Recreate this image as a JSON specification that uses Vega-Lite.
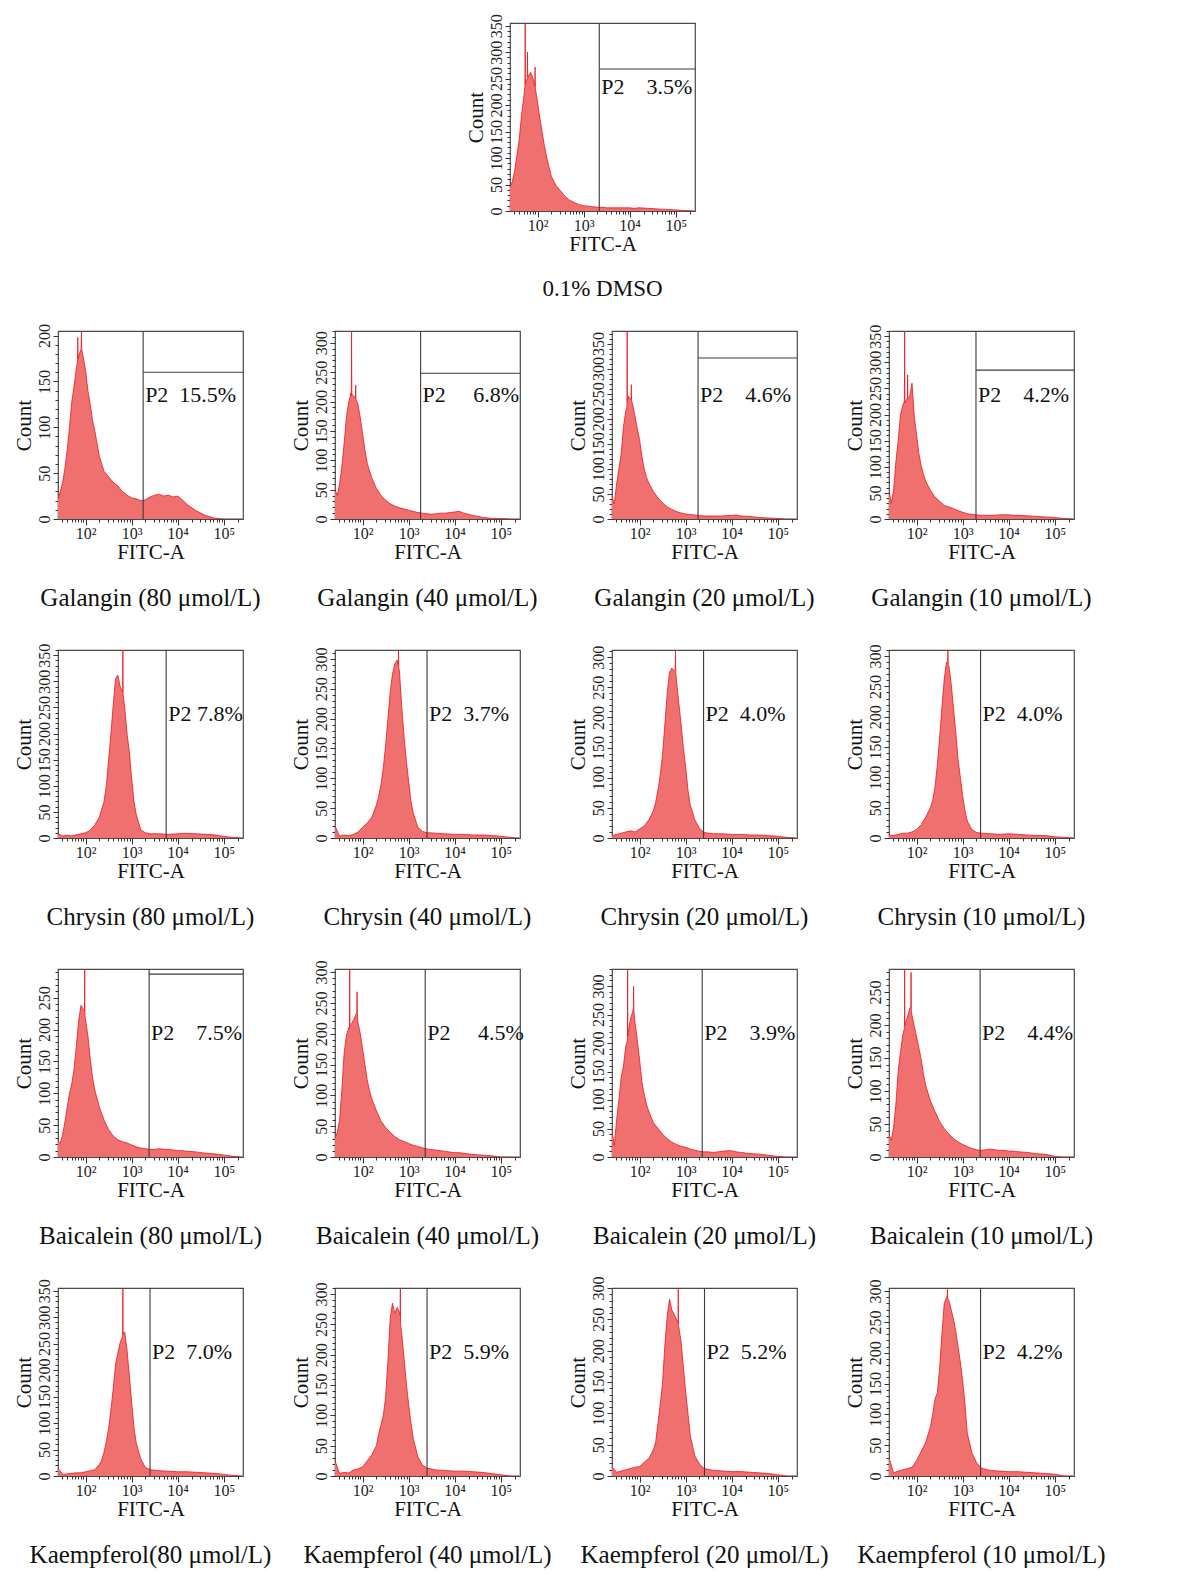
{
"$schema": "https://vega.github.io/schema/vega-lite/v6.json",
"padding": {"left": 12, "top": 13, "right": 0, "bottom": 0},
"background": "white",
"config": {
  "font": "Liberation Serif",
  "view": {"stroke": "#4a4a4a", "strokeWidth": 1.2},
  "axis": {"grid": false, "domain": false, "labelFont": "Liberation Serif", "titleFont": "Liberation Serif", "labelColor": "#222", "titleColor": "#111", "tickColor": "#333", "titleFontWeight": "normal", "labelFlush": false},
  "header": {"labelOrient": "bottom", "labelFont": "Liberation Serif", "labelFontSize": 25, "labelColor": "#111", "labelPadding": 24},
  "title": {"font": "Liberation Serif", "fontWeight": "normal"}
},
"datasets": {
"meta": [
{"s":"D","cap":"0.1% DMSO","ord":0,"gate":3.34,"hline":268,"ymax":355,"label":"P2\u00a0\u00a0\u00a0\u00a03.5%"},
{"s":"G80","cap":"Galangin (80 μmol/L)","ord":1,"gate":3.25,"hline":160,"ymax":205,"label":"P2\u00a0\u00a015.5%"},
{"s":"G40","cap":"Galangin (40 μmol/L)","ord":2,"gate":3.26,"hline":248,"ymax":320,"label":"P2\u00a0\u00a0\u00a0\u00a0\u00a06.8%"},
{"s":"G20","cap":"Galangin (20 μmol/L)","ord":3,"gate":3.27,"hline":321,"ymax":375,"label":"P2\u00a0\u00a0\u00a0\u00a04.6%"},
{"s":"G10","cap":"Galangin (10 μmol/L)","ord":4,"gate":3.29,"hline":285,"ymax":360,"label":"P2\u00a0\u00a0\u00a0\u00a04.2%"},
{"s":"C80","cap":"Chrysin (80 μmol/L)","ord":5,"gate":3.75,"hline":null,"ymax":360,"label":"P2 7.8%"},
{"s":"C40","cap":"Chrysin (40 μmol/L)","ord":6,"gate":3.40,"hline":null,"ymax":315,"label":"P2\u00a0\u00a03.7%"},
{"s":"C20","cap":"Chrysin (20 μmol/L)","ord":7,"gate":3.39,"hline":null,"ymax":312,"label":"P2\u00a0\u00a04.0%"},
{"s":"C10","cap":"Chrysin (10 μmol/L)","ord":8,"gate":3.39,"hline":null,"ymax":310,"label":"P2\u00a0\u00a04.0%"},
{"s":"B80","cap":"Baicalein (80 μmol/L)","ord":9,"gate":3.38,"hline":287,"ymax":295,"label":"P2\u00a0\u00a0\u00a0\u00a07.5%"},
{"s":"B40","cap":"Baicalein (40 μmol/L)","ord":10,"gate":3.36,"hline":null,"ymax":305,"label":"P2\u00a0\u00a0\u00a0\u00a0\u00a04.5%"},
{"s":"B20","cap":"Baicalein (20 μmol/L)","ord":11,"gate":3.36,"hline":null,"ymax":330,"label":"P2\u00a0\u00a0\u00a0\u00a03.9%"},
{"s":"B10","cap":"Baicalein (10 μmol/L)","ord":12,"gate":3.38,"hline":null,"ymax":285,"label":"P2\u00a0\u00a0\u00a0\u00a04.4%"},
{"s":"K80","cap":"Kaempferol(80 μmol/L)","ord":13,"gate":3.40,"hline":null,"ymax":355,"label":"P2\u00a0\u00a07.0%"},
{"s":"K40","cap":"Kaempferol (40 μmol/L)","ord":14,"gate":3.40,"hline":null,"ymax":310,"label":"P2\u00a0\u00a05.9%"},
{"s":"K20","cap":"Kaempferol (20 μmol/L)","ord":15,"gate":3.41,"hline":null,"ymax":300,"label":"P2\u00a0\u00a05.2%"},
{"s":"K10","cap":"Kaempferol (10 μmol/L)","ord":16,"gate":3.39,"hline":null,"ymax":305,"label":"P2\u00a0\u00a04.2%"}
],
"hist": [
{"s":"D","x":1.4,"c":45},{"s":"D","x":1.45,"c":55},{"s":"D","x":1.5,"c":75},{"s":"D","x":1.55,"c":105},{"s":"D","x":1.6,"c":135},{"s":"D","x":1.65,"c":180},{"s":"D","x":1.7,"c":215},{"s":"D","x":1.725,"c":235},{"s":"D","x":1.73,"c":355},{"s":"D","x":1.735,"c":240},{"s":"D","x":1.75,"c":245},{"s":"D","x":1.775,"c":250},{"s":"D","x":1.78,"c":300},{"s":"D","x":1.785,"c":253},{"s":"D","x":1.8,"c":255},{"s":"D","x":1.85,"c":262},{"s":"D","x":1.9,"c":250},{"s":"D","x":1.94,"c":236},{"s":"D","x":1.945,"c":272},{"s":"D","x":1.95,"c":232},{"s":"D","x":2,"c":205},{"s":"D","x":2.05,"c":175},{"s":"D","x":2.1,"c":148},{"s":"D","x":2.15,"c":122},{"s":"D","x":2.2,"c":100},{"s":"D","x":2.3,"c":65},{"s":"D","x":2.4,"c":48},{"s":"D","x":2.5,"c":38},{"s":"D","x":2.6,"c":27},{"s":"D","x":2.7,"c":20},{"s":"D","x":2.8,"c":16},{"s":"D","x":2.9,"c":12},{"s":"D","x":3,"c":10},{"s":"D","x":3.1,"c":9},{"s":"D","x":3.2,"c":8},{"s":"D","x":3.3,"c":7},{"s":"D","x":3.4,"c":7},{"s":"D","x":3.5,"c":6},{"s":"D","x":3.6,"c":6},{"s":"D","x":3.7,"c":6},{"s":"D","x":3.8,"c":6},{"s":"D","x":3.9,"c":6},{"s":"D","x":4,"c":6},{"s":"D","x":4.1,"c":5},{"s":"D","x":4.2,"c":6},{"s":"D","x":4.4,"c":5},{"s":"D","x":4.6,"c":4},{"s":"D","x":4.8,"c":3},{"s":"D","x":5,"c":2},{"s":"D","x":5.2,"c":1},{"s":"D","x":5.4,"c":0},
{"s":"G80","x":1.4,"c":22},{"s":"G80","x":1.45,"c":30},{"s":"G80","x":1.5,"c":40},{"s":"G80","x":1.55,"c":55},{"s":"G80","x":1.6,"c":75},{"s":"G80","x":1.65,"c":100},{"s":"G80","x":1.7,"c":128},{"s":"G80","x":1.75,"c":145},{"s":"G80","x":1.8,"c":165},{"s":"G80","x":1.825,"c":172},{"s":"G80","x":1.83,"c":198},{"s":"G80","x":1.835,"c":175},{"s":"G80","x":1.85,"c":178},{"s":"G80","x":1.9,"c":185},{"s":"G80","x":1.905,"c":190},{"s":"G80","x":1.91,"c":205},{"s":"G80","x":1.915,"c":185},{"s":"G80","x":1.95,"c":176},{"s":"G80","x":2,"c":162},{"s":"G80","x":2.05,"c":140},{"s":"G80","x":2.1,"c":125},{"s":"G80","x":2.15,"c":108},{"s":"G80","x":2.2,"c":96},{"s":"G80","x":2.3,"c":68},{"s":"G80","x":2.4,"c":52},{"s":"G80","x":2.5,"c":46},{"s":"G80","x":2.6,"c":40},{"s":"G80","x":2.7,"c":36},{"s":"G80","x":2.8,"c":30},{"s":"G80","x":2.9,"c":26},{"s":"G80","x":3,"c":23},{"s":"G80","x":3.1,"c":22},{"s":"G80","x":3.2,"c":20},{"s":"G80","x":3.3,"c":21},{"s":"G80","x":3.4,"c":24},{"s":"G80","x":3.5,"c":26},{"s":"G80","x":3.6,"c":27},{"s":"G80","x":3.7,"c":25},{"s":"G80","x":3.8,"c":26},{"s":"G80","x":3.9,"c":24},{"s":"G80","x":4,"c":25},{"s":"G80","x":4.1,"c":21},{"s":"G80","x":4.2,"c":16},{"s":"G80","x":4.4,"c":9},{"s":"G80","x":4.6,"c":4},{"s":"G80","x":4.8,"c":1},{"s":"G80","x":5,"c":0},{"s":"G80","x":5.2,"c":0},{"s":"G80","x":5.4,"c":0},
{"s":"G40","x":1.4,"c":50},{"s":"G40","x":1.45,"c":40},{"s":"G40","x":1.5,"c":60},{"s":"G40","x":1.55,"c":90},{"s":"G40","x":1.6,"c":130},{"s":"G40","x":1.65,"c":175},{"s":"G40","x":1.7,"c":200},{"s":"G40","x":1.75,"c":215},{"s":"G40","x":1.755,"c":210},{"s":"G40","x":1.76,"c":320},{"s":"G40","x":1.765,"c":212},{"s":"G40","x":1.8,"c":210},{"s":"G40","x":1.845,"c":206},{"s":"G40","x":1.85,"c":228},{"s":"G40","x":1.855,"c":204},{"s":"G40","x":1.9,"c":195},{"s":"G40","x":1.95,"c":172},{"s":"G40","x":2,"c":145},{"s":"G40","x":2.05,"c":118},{"s":"G40","x":2.1,"c":95},{"s":"G40","x":2.15,"c":82},{"s":"G40","x":2.2,"c":70},{"s":"G40","x":2.3,"c":52},{"s":"G40","x":2.4,"c":40},{"s":"G40","x":2.5,"c":32},{"s":"G40","x":2.6,"c":26},{"s":"G40","x":2.7,"c":22},{"s":"G40","x":2.8,"c":19},{"s":"G40","x":2.9,"c":17},{"s":"G40","x":3,"c":15},{"s":"G40","x":3.1,"c":13},{"s":"G40","x":3.2,"c":11},{"s":"G40","x":3.3,"c":10},{"s":"G40","x":3.4,"c":9},{"s":"G40","x":3.5,"c":8},{"s":"G40","x":3.6,"c":9},{"s":"G40","x":3.7,"c":10},{"s":"G40","x":3.8,"c":10},{"s":"G40","x":3.9,"c":11},{"s":"G40","x":4,"c":12},{"s":"G40","x":4.1,"c":13},{"s":"G40","x":4.2,"c":10},{"s":"G40","x":4.4,"c":6},{"s":"G40","x":4.6,"c":3},{"s":"G40","x":4.8,"c":1},{"s":"G40","x":5,"c":1},{"s":"G40","x":5.2,"c":0},{"s":"G40","x":5.4,"c":0},
{"s":"G20","x":1.4,"c":45},{"s":"G20","x":1.45,"c":30},{"s":"G20","x":1.5,"c":70},{"s":"G20","x":1.55,"c":100},{"s":"G20","x":1.6,"c":130},{"s":"G20","x":1.65,"c":185},{"s":"G20","x":1.7,"c":215},{"s":"G20","x":1.725,"c":225},{"s":"G20","x":1.73,"c":375},{"s":"G20","x":1.735,"c":235},{"s":"G20","x":1.75,"c":245},{"s":"G20","x":1.8,"c":240},{"s":"G20","x":1.815,"c":238},{"s":"G20","x":1.82,"c":268},{"s":"G20","x":1.825,"c":236},{"s":"G20","x":1.85,"c":228},{"s":"G20","x":1.9,"c":205},{"s":"G20","x":1.95,"c":180},{"s":"G20","x":2,"c":158},{"s":"G20","x":2.05,"c":125},{"s":"G20","x":2.1,"c":100},{"s":"G20","x":2.15,"c":83},{"s":"G20","x":2.2,"c":72},{"s":"G20","x":2.3,"c":55},{"s":"G20","x":2.4,"c":42},{"s":"G20","x":2.5,"c":32},{"s":"G20","x":2.6,"c":24},{"s":"G20","x":2.7,"c":19},{"s":"G20","x":2.8,"c":15},{"s":"G20","x":2.9,"c":12},{"s":"G20","x":3,"c":10},{"s":"G20","x":3.1,"c":9},{"s":"G20","x":3.2,"c":8},{"s":"G20","x":3.3,"c":7},{"s":"G20","x":3.4,"c":6},{"s":"G20","x":3.5,"c":6},{"s":"G20","x":3.6,"c":6},{"s":"G20","x":3.7,"c":6},{"s":"G20","x":3.8,"c":6},{"s":"G20","x":3.9,"c":7},{"s":"G20","x":4,"c":7},{"s":"G20","x":4.1,"c":8},{"s":"G20","x":4.2,"c":6},{"s":"G20","x":4.4,"c":5},{"s":"G20","x":4.6,"c":3},{"s":"G20","x":4.8,"c":2},{"s":"G20","x":5,"c":1},{"s":"G20","x":5.2,"c":0},{"s":"G20","x":5.4,"c":0},
{"s":"G10","x":1.4,"c":55},{"s":"G10","x":1.45,"c":30},{"s":"G10","x":1.5,"c":55},{"s":"G10","x":1.55,"c":110},{"s":"G10","x":1.6,"c":150},{"s":"G10","x":1.65,"c":200},{"s":"G10","x":1.7,"c":218},{"s":"G10","x":1.735,"c":225},{"s":"G10","x":1.74,"c":360},{"s":"G10","x":1.745,"c":228},{"s":"G10","x":1.75,"c":222},{"s":"G10","x":1.8,"c":232},{"s":"G10","x":1.805,"c":276},{"s":"G10","x":1.81,"c":230},{"s":"G10","x":1.85,"c":235},{"s":"G10","x":1.9,"c":260},{"s":"G10","x":1.95,"c":195},{"s":"G10","x":2,"c":160},{"s":"G10","x":2.05,"c":125},{"s":"G10","x":2.1,"c":102},{"s":"G10","x":2.15,"c":85},{"s":"G10","x":2.2,"c":72},{"s":"G10","x":2.3,"c":55},{"s":"G10","x":2.4,"c":42},{"s":"G10","x":2.5,"c":34},{"s":"G10","x":2.6,"c":26},{"s":"G10","x":2.7,"c":23},{"s":"G10","x":2.8,"c":20},{"s":"G10","x":2.9,"c":16},{"s":"G10","x":3,"c":13},{"s":"G10","x":3.1,"c":10},{"s":"G10","x":3.2,"c":9},{"s":"G10","x":3.3,"c":8},{"s":"G10","x":3.4,"c":7},{"s":"G10","x":3.5,"c":7},{"s":"G10","x":3.6,"c":7},{"s":"G10","x":3.7,"c":7},{"s":"G10","x":3.8,"c":8},{"s":"G10","x":3.9,"c":8},{"s":"G10","x":4,"c":8},{"s":"G10","x":4.1,"c":7},{"s":"G10","x":4.2,"c":7},{"s":"G10","x":4.4,"c":6},{"s":"G10","x":4.6,"c":5},{"s":"G10","x":4.8,"c":4},{"s":"G10","x":5,"c":3},{"s":"G10","x":5.2,"c":1},{"s":"G10","x":5.4,"c":0},
{"s":"C80","x":1.4,"c":8},{"s":"C80","x":1.5,"c":4},{"s":"C80","x":1.6,"c":5},{"s":"C80","x":1.7,"c":4},{"s":"C80","x":1.8,"c":6},{"s":"C80","x":1.9,"c":8},{"s":"C80","x":2,"c":10},{"s":"C80","x":2.1,"c":15},{"s":"C80","x":2.2,"c":25},{"s":"C80","x":2.3,"c":40},{"s":"C80","x":2.35,"c":55},{"s":"C80","x":2.4,"c":70},{"s":"C80","x":2.45,"c":100},{"s":"C80","x":2.5,"c":150},{"s":"C80","x":2.55,"c":200},{"s":"C80","x":2.6,"c":255},{"s":"C80","x":2.65,"c":305},{"s":"C80","x":2.7,"c":312},{"s":"C80","x":2.75,"c":290},{"s":"C80","x":2.8,"c":280},{"s":"C80","x":2.805,"c":285},{"s":"C80","x":2.81,"c":360},{"s":"C80","x":2.815,"c":275},{"s":"C80","x":2.85,"c":250},{"s":"C80","x":2.9,"c":200},{"s":"C80","x":2.95,"c":165},{"s":"C80","x":3,"c":115},{"s":"C80","x":3.05,"c":70},{"s":"C80","x":3.1,"c":45},{"s":"C80","x":3.2,"c":15},{"s":"C80","x":3.3,"c":10},{"s":"C80","x":3.4,"c":8},{"s":"C80","x":3.6,"c":8},{"s":"C80","x":3.8,"c":7},{"s":"C80","x":4,"c":8},{"s":"C80","x":4.2,"c":9},{"s":"C80","x":4.4,"c":8},{"s":"C80","x":4.6,"c":7},{"s":"C80","x":4.8,"c":6},{"s":"C80","x":5,"c":3},{"s":"C80","x":5.2,"c":1},{"s":"C80","x":5.4,"c":0},
{"s":"C40","x":1.4,"c":20},{"s":"C40","x":1.5,"c":3},{"s":"C40","x":1.6,"c":5},{"s":"C40","x":1.7,"c":4},{"s":"C40","x":1.8,"c":6},{"s":"C40","x":1.9,"c":10},{"s":"C40","x":2,"c":18},{"s":"C40","x":2.1,"c":25},{"s":"C40","x":2.2,"c":35},{"s":"C40","x":2.3,"c":55},{"s":"C40","x":2.35,"c":70},{"s":"C40","x":2.4,"c":90},{"s":"C40","x":2.45,"c":118},{"s":"C40","x":2.5,"c":155},{"s":"C40","x":2.55,"c":200},{"s":"C40","x":2.6,"c":245},{"s":"C40","x":2.65,"c":275},{"s":"C40","x":2.7,"c":292},{"s":"C40","x":2.75,"c":298},{"s":"C40","x":2.775,"c":290},{"s":"C40","x":2.78,"c":315},{"s":"C40","x":2.785,"c":285},{"s":"C40","x":2.8,"c":280},{"s":"C40","x":2.85,"c":220},{"s":"C40","x":2.9,"c":170},{"s":"C40","x":2.95,"c":130},{"s":"C40","x":3,"c":95},{"s":"C40","x":3.05,"c":62},{"s":"C40","x":3.1,"c":42},{"s":"C40","x":3.2,"c":18},{"s":"C40","x":3.3,"c":11},{"s":"C40","x":3.4,"c":9},{"s":"C40","x":3.6,"c":8},{"s":"C40","x":3.8,"c":7},{"s":"C40","x":4,"c":6},{"s":"C40","x":4.2,"c":6},{"s":"C40","x":4.4,"c":5},{"s":"C40","x":4.6,"c":5},{"s":"C40","x":4.8,"c":4},{"s":"C40","x":5,"c":3},{"s":"C40","x":5.2,"c":1},{"s":"C40","x":5.4,"c":0},
{"s":"C20","x":1.4,"c":4},{"s":"C20","x":1.5,"c":6},{"s":"C20","x":1.6,"c":8},{"s":"C20","x":1.7,"c":10},{"s":"C20","x":1.8,"c":12},{"s":"C20","x":1.9,"c":10},{"s":"C20","x":2,"c":15},{"s":"C20","x":2.1,"c":20},{"s":"C20","x":2.2,"c":30},{"s":"C20","x":2.3,"c":45},{"s":"C20","x":2.35,"c":60},{"s":"C20","x":2.4,"c":80},{"s":"C20","x":2.45,"c":105},{"s":"C20","x":2.5,"c":140},{"s":"C20","x":2.55,"c":190},{"s":"C20","x":2.6,"c":240},{"s":"C20","x":2.65,"c":275},{"s":"C20","x":2.7,"c":282},{"s":"C20","x":2.75,"c":278},{"s":"C20","x":2.775,"c":280},{"s":"C20","x":2.78,"c":312},{"s":"C20","x":2.785,"c":275},{"s":"C20","x":2.8,"c":262},{"s":"C20","x":2.85,"c":225},{"s":"C20","x":2.9,"c":190},{"s":"C20","x":2.95,"c":150},{"s":"C20","x":3,"c":118},{"s":"C20","x":3.05,"c":80},{"s":"C20","x":3.1,"c":55},{"s":"C20","x":3.2,"c":30},{"s":"C20","x":3.3,"c":16},{"s":"C20","x":3.4,"c":9},{"s":"C20","x":3.6,"c":7},{"s":"C20","x":3.8,"c":7},{"s":"C20","x":4,"c":6},{"s":"C20","x":4.2,"c":6},{"s":"C20","x":4.4,"c":5},{"s":"C20","x":4.6,"c":5},{"s":"C20","x":4.8,"c":4},{"s":"C20","x":5,"c":3},{"s":"C20","x":5.2,"c":1},{"s":"C20","x":5.4,"c":0},
{"s":"C10","x":1.4,"c":5},{"s":"C10","x":1.5,"c":4},{"s":"C10","x":1.6,"c":6},{"s":"C10","x":1.7,"c":8},{"s":"C10","x":1.8,"c":8},{"s":"C10","x":1.9,"c":10},{"s":"C10","x":2,"c":14},{"s":"C10","x":2.1,"c":22},{"s":"C10","x":2.2,"c":35},{"s":"C10","x":2.3,"c":50},{"s":"C10","x":2.35,"c":62},{"s":"C10","x":2.4,"c":85},{"s":"C10","x":2.45,"c":120},{"s":"C10","x":2.5,"c":165},{"s":"C10","x":2.55,"c":215},{"s":"C10","x":2.6,"c":262},{"s":"C10","x":2.65,"c":290},{"s":"C10","x":2.675,"c":288},{"s":"C10","x":2.68,"c":310},{"s":"C10","x":2.685,"c":286},{"s":"C10","x":2.7,"c":285},{"s":"C10","x":2.75,"c":255},{"s":"C10","x":2.8,"c":215},{"s":"C10","x":2.85,"c":175},{"s":"C10","x":2.9,"c":130},{"s":"C10","x":2.95,"c":100},{"s":"C10","x":3,"c":70},{"s":"C10","x":3.05,"c":45},{"s":"C10","x":3.1,"c":28},{"s":"C10","x":3.2,"c":14},{"s":"C10","x":3.3,"c":9},{"s":"C10","x":3.4,"c":8},{"s":"C10","x":3.6,"c":7},{"s":"C10","x":3.8,"c":6},{"s":"C10","x":4,"c":7},{"s":"C10","x":4.2,"c":6},{"s":"C10","x":4.4,"c":5},{"s":"C10","x":4.6,"c":4},{"s":"C10","x":4.8,"c":4},{"s":"C10","x":5,"c":2},{"s":"C10","x":5.2,"c":1},{"s":"C10","x":5.4,"c":0},
{"s":"B80","x":1.4,"c":25},{"s":"B80","x":1.45,"c":22},{"s":"B80","x":1.5,"c":35},{"s":"B80","x":1.55,"c":55},{"s":"B80","x":1.6,"c":78},{"s":"B80","x":1.65,"c":100},{"s":"B80","x":1.7,"c":115},{"s":"B80","x":1.75,"c":138},{"s":"B80","x":1.8,"c":175},{"s":"B80","x":1.85,"c":215},{"s":"B80","x":1.9,"c":238},{"s":"B80","x":1.95,"c":232},{"s":"B80","x":1.975,"c":230},{"s":"B80","x":1.98,"c":295},{"s":"B80","x":1.985,"c":222},{"s":"B80","x":2,"c":215},{"s":"B80","x":2.05,"c":190},{"s":"B80","x":2.1,"c":155},{"s":"B80","x":2.15,"c":125},{"s":"B80","x":2.2,"c":105},{"s":"B80","x":2.3,"c":78},{"s":"B80","x":2.4,"c":58},{"s":"B80","x":2.5,"c":43},{"s":"B80","x":2.6,"c":33},{"s":"B80","x":2.7,"c":27},{"s":"B80","x":2.8,"c":24},{"s":"B80","x":2.9,"c":22},{"s":"B80","x":3,"c":19},{"s":"B80","x":3.1,"c":16},{"s":"B80","x":3.2,"c":14},{"s":"B80","x":3.3,"c":13},{"s":"B80","x":3.4,"c":12},{"s":"B80","x":3.5,"c":12},{"s":"B80","x":3.6,"c":13},{"s":"B80","x":3.7,"c":12},{"s":"B80","x":3.8,"c":12},{"s":"B80","x":3.9,"c":11},{"s":"B80","x":4,"c":10},{"s":"B80","x":4.1,"c":10},{"s":"B80","x":4.2,"c":9},{"s":"B80","x":4.4,"c":8},{"s":"B80","x":4.6,"c":6},{"s":"B80","x":4.8,"c":5},{"s":"B80","x":5,"c":3},{"s":"B80","x":5.2,"c":1},{"s":"B80","x":5.4,"c":0},
{"s":"B40","x":1.4,"c":30},{"s":"B40","x":1.45,"c":40},{"s":"B40","x":1.5,"c":60},{"s":"B40","x":1.55,"c":110},{"s":"B40","x":1.6,"c":170},{"s":"B40","x":1.65,"c":198},{"s":"B40","x":1.7,"c":210},{"s":"B40","x":1.715,"c":208},{"s":"B40","x":1.72,"c":305},{"s":"B40","x":1.725,"c":212},{"s":"B40","x":1.75,"c":215},{"s":"B40","x":1.8,"c":222},{"s":"B40","x":1.85,"c":230},{"s":"B40","x":1.875,"c":235},{"s":"B40","x":1.88,"c":268},{"s":"B40","x":1.885,"c":232},{"s":"B40","x":1.9,"c":218},{"s":"B40","x":1.95,"c":200},{"s":"B40","x":2,"c":175},{"s":"B40","x":2.05,"c":150},{"s":"B40","x":2.1,"c":125},{"s":"B40","x":2.15,"c":108},{"s":"B40","x":2.2,"c":94},{"s":"B40","x":2.3,"c":75},{"s":"B40","x":2.4,"c":58},{"s":"B40","x":2.5,"c":48},{"s":"B40","x":2.6,"c":40},{"s":"B40","x":2.7,"c":33},{"s":"B40","x":2.8,"c":28},{"s":"B40","x":2.9,"c":25},{"s":"B40","x":3,"c":22},{"s":"B40","x":3.1,"c":19},{"s":"B40","x":3.2,"c":17},{"s":"B40","x":3.3,"c":15},{"s":"B40","x":3.4,"c":13},{"s":"B40","x":3.5,"c":12},{"s":"B40","x":3.6,"c":11},{"s":"B40","x":3.7,"c":10},{"s":"B40","x":3.8,"c":9},{"s":"B40","x":3.9,"c":8},{"s":"B40","x":4,"c":7},{"s":"B40","x":4.1,"c":7},{"s":"B40","x":4.2,"c":6},{"s":"B40","x":4.4,"c":4},{"s":"B40","x":4.6,"c":3},{"s":"B40","x":4.8,"c":2},{"s":"B40","x":5,"c":0},{"s":"B40","x":5.2,"c":0},{"s":"B40","x":5.4,"c":0},
{"s":"B20","x":1.4,"c":45},{"s":"B20","x":1.45,"c":20},{"s":"B20","x":1.5,"c":65},{"s":"B20","x":1.55,"c":100},{"s":"B20","x":1.6,"c":140},{"s":"B20","x":1.65,"c":160},{"s":"B20","x":1.7,"c":195},{"s":"B20","x":1.735,"c":205},{"s":"B20","x":1.74,"c":330},{"s":"B20","x":1.745,"c":212},{"s":"B20","x":1.75,"c":218},{"s":"B20","x":1.8,"c":242},{"s":"B20","x":1.85,"c":255},{"s":"B20","x":1.865,"c":262},{"s":"B20","x":1.87,"c":300},{"s":"B20","x":1.875,"c":258},{"s":"B20","x":1.9,"c":235},{"s":"B20","x":1.95,"c":205},{"s":"B20","x":2,"c":170},{"s":"B20","x":2.05,"c":132},{"s":"B20","x":2.1,"c":110},{"s":"B20","x":2.15,"c":92},{"s":"B20","x":2.2,"c":80},{"s":"B20","x":2.3,"c":60},{"s":"B20","x":2.4,"c":50},{"s":"B20","x":2.5,"c":40},{"s":"B20","x":2.6,"c":32},{"s":"B20","x":2.7,"c":26},{"s":"B20","x":2.8,"c":22},{"s":"B20","x":2.9,"c":19},{"s":"B20","x":3,"c":17},{"s":"B20","x":3.1,"c":14},{"s":"B20","x":3.2,"c":12},{"s":"B20","x":3.3,"c":10},{"s":"B20","x":3.4,"c":9},{"s":"B20","x":3.5,"c":9},{"s":"B20","x":3.6,"c":8},{"s":"B20","x":3.7,"c":9},{"s":"B20","x":3.8,"c":10},{"s":"B20","x":3.9,"c":11},{"s":"B20","x":4,"c":11},{"s":"B20","x":4.1,"c":9},{"s":"B20","x":4.2,"c":8},{"s":"B20","x":4.4,"c":6},{"s":"B20","x":4.6,"c":5},{"s":"B20","x":4.8,"c":3},{"s":"B20","x":5,"c":1},{"s":"B20","x":5.2,"c":0},{"s":"B20","x":5.4,"c":0},
{"s":"B10","x":1.4,"c":35},{"s":"B10","x":1.45,"c":25},{"s":"B10","x":1.5,"c":45},{"s":"B10","x":1.55,"c":80},{"s":"B10","x":1.6,"c":130},{"s":"B10","x":1.65,"c":160},{"s":"B10","x":1.7,"c":185},{"s":"B10","x":1.735,"c":195},{"s":"B10","x":1.74,"c":285},{"s":"B10","x":1.745,"c":200},{"s":"B10","x":1.75,"c":202},{"s":"B10","x":1.8,"c":212},{"s":"B10","x":1.85,"c":225},{"s":"B10","x":1.875,"c":228},{"s":"B10","x":1.88,"c":280},{"s":"B10","x":1.885,"c":222},{"s":"B10","x":1.9,"c":215},{"s":"B10","x":1.95,"c":198},{"s":"B10","x":2,"c":182},{"s":"B10","x":2.05,"c":165},{"s":"B10","x":2.1,"c":148},{"s":"B10","x":2.15,"c":125},{"s":"B10","x":2.2,"c":108},{"s":"B10","x":2.3,"c":85},{"s":"B10","x":2.4,"c":69},{"s":"B10","x":2.5,"c":54},{"s":"B10","x":2.6,"c":43},{"s":"B10","x":2.7,"c":35},{"s":"B10","x":2.8,"c":28},{"s":"B10","x":2.9,"c":23},{"s":"B10","x":3,"c":19},{"s":"B10","x":3.1,"c":16},{"s":"B10","x":3.2,"c":13},{"s":"B10","x":3.3,"c":11},{"s":"B10","x":3.4,"c":10},{"s":"B10","x":3.5,"c":11},{"s":"B10","x":3.6,"c":12},{"s":"B10","x":3.7,"c":11},{"s":"B10","x":3.8,"c":10},{"s":"B10","x":3.9,"c":10},{"s":"B10","x":4,"c":9},{"s":"B10","x":4.1,"c":9},{"s":"B10","x":4.2,"c":8},{"s":"B10","x":4.4,"c":7},{"s":"B10","x":4.6,"c":5},{"s":"B10","x":4.8,"c":4},{"s":"B10","x":5,"c":1},{"s":"B10","x":5.2,"c":0},{"s":"B10","x":5.4,"c":0},
{"s":"K80","x":1.4,"c":15},{"s":"K80","x":1.5,"c":3},{"s":"K80","x":1.6,"c":4},{"s":"K80","x":1.7,"c":5},{"s":"K80","x":1.8,"c":6},{"s":"K80","x":1.9,"c":6},{"s":"K80","x":2,"c":8},{"s":"K80","x":2.1,"c":10},{"s":"K80","x":2.2,"c":12},{"s":"K80","x":2.3,"c":22},{"s":"K80","x":2.35,"c":30},{"s":"K80","x":2.4,"c":45},{"s":"K80","x":2.45,"c":65},{"s":"K80","x":2.5,"c":90},{"s":"K80","x":2.55,"c":125},{"s":"K80","x":2.6,"c":165},{"s":"K80","x":2.65,"c":210},{"s":"K80","x":2.7,"c":232},{"s":"K80","x":2.75,"c":252},{"s":"K80","x":2.8,"c":262},{"s":"K80","x":2.805,"c":265},{"s":"K80","x":2.81,"c":355},{"s":"K80","x":2.815,"c":268},{"s":"K80","x":2.85,"c":272},{"s":"K80","x":2.9,"c":238},{"s":"K80","x":2.95,"c":190},{"s":"K80","x":3,"c":140},{"s":"K80","x":3.05,"c":92},{"s":"K80","x":3.1,"c":62},{"s":"K80","x":3.2,"c":32},{"s":"K80","x":3.3,"c":16},{"s":"K80","x":3.4,"c":12},{"s":"K80","x":3.6,"c":10},{"s":"K80","x":3.8,"c":9},{"s":"K80","x":4,"c":8},{"s":"K80","x":4.2,"c":8},{"s":"K80","x":4.4,"c":7},{"s":"K80","x":4.6,"c":6},{"s":"K80","x":4.8,"c":5},{"s":"K80","x":5,"c":3},{"s":"K80","x":5.2,"c":1},{"s":"K80","x":5.4,"c":0},
{"s":"K40","x":1.4,"c":25},{"s":"K40","x":1.5,"c":4},{"s":"K40","x":1.6,"c":6},{"s":"K40","x":1.7,"c":5},{"s":"K40","x":1.8,"c":10},{"s":"K40","x":1.9,"c":12},{"s":"K40","x":2,"c":15},{"s":"K40","x":2.1,"c":25},{"s":"K40","x":2.2,"c":35},{"s":"K40","x":2.3,"c":50},{"s":"K40","x":2.35,"c":70},{"s":"K40","x":2.4,"c":85},{"s":"K40","x":2.45,"c":100},{"s":"K40","x":2.5,"c":130},{"s":"K40","x":2.55,"c":190},{"s":"K40","x":2.6,"c":260},{"s":"K40","x":2.65,"c":285},{"s":"K40","x":2.7,"c":268},{"s":"K40","x":2.75,"c":278},{"s":"K40","x":2.8,"c":270},{"s":"K40","x":2.815,"c":265},{"s":"K40","x":2.82,"c":310},{"s":"K40","x":2.825,"c":250},{"s":"K40","x":2.85,"c":235},{"s":"K40","x":2.9,"c":195},{"s":"K40","x":2.95,"c":152},{"s":"K40","x":3,"c":118},{"s":"K40","x":3.05,"c":88},{"s":"K40","x":3.1,"c":62},{"s":"K40","x":3.2,"c":32},{"s":"K40","x":3.3,"c":18},{"s":"K40","x":3.4,"c":13},{"s":"K40","x":3.6,"c":10},{"s":"K40","x":3.8,"c":9},{"s":"K40","x":4,"c":8},{"s":"K40","x":4.2,"c":8},{"s":"K40","x":4.4,"c":7},{"s":"K40","x":4.6,"c":6},{"s":"K40","x":4.8,"c":4},{"s":"K40","x":5,"c":2},{"s":"K40","x":5.2,"c":0},{"s":"K40","x":5.4,"c":0},
{"s":"K20","x":1.4,"c":15},{"s":"K20","x":1.5,"c":6},{"s":"K20","x":1.6,"c":8},{"s":"K20","x":1.7,"c":10},{"s":"K20","x":1.8,"c":12},{"s":"K20","x":1.9,"c":14},{"s":"K20","x":2,"c":15},{"s":"K20","x":2.1,"c":22},{"s":"K20","x":2.2,"c":28},{"s":"K20","x":2.3,"c":42},{"s":"K20","x":2.35,"c":55},{"s":"K20","x":2.4,"c":85},{"s":"K20","x":2.45,"c":115},{"s":"K20","x":2.5,"c":150},{"s":"K20","x":2.55,"c":210},{"s":"K20","x":2.6,"c":255},{"s":"K20","x":2.65,"c":282},{"s":"K20","x":2.7,"c":265},{"s":"K20","x":2.75,"c":258},{"s":"K20","x":2.8,"c":250},{"s":"K20","x":2.835,"c":245},{"s":"K20","x":2.84,"c":300},{"s":"K20","x":2.845,"c":240},{"s":"K20","x":2.85,"c":238},{"s":"K20","x":2.9,"c":215},{"s":"K20","x":2.95,"c":175},{"s":"K20","x":3,"c":135},{"s":"K20","x":3.05,"c":100},{"s":"K20","x":3.1,"c":65},{"s":"K20","x":3.2,"c":32},{"s":"K20","x":3.3,"c":19},{"s":"K20","x":3.4,"c":12},{"s":"K20","x":3.6,"c":9},{"s":"K20","x":3.8,"c":8},{"s":"K20","x":4,"c":7},{"s":"K20","x":4.2,"c":7},{"s":"K20","x":4.4,"c":6},{"s":"K20","x":4.6,"c":5},{"s":"K20","x":4.8,"c":4},{"s":"K20","x":5,"c":2},{"s":"K20","x":5.2,"c":0},{"s":"K20","x":5.4,"c":0},
{"s":"K10","x":1.4,"c":30},{"s":"K10","x":1.5,"c":5},{"s":"K10","x":1.6,"c":8},{"s":"K10","x":1.7,"c":10},{"s":"K10","x":1.8,"c":12},{"s":"K10","x":1.9,"c":14},{"s":"K10","x":2,"c":25},{"s":"K10","x":2.1,"c":40},{"s":"K10","x":2.2,"c":55},{"s":"K10","x":2.3,"c":80},{"s":"K10","x":2.35,"c":100},{"s":"K10","x":2.4,"c":125},{"s":"K10","x":2.45,"c":135},{"s":"K10","x":2.5,"c":175},{"s":"K10","x":2.55,"c":230},{"s":"K10","x":2.6,"c":280},{"s":"K10","x":2.65,"c":290},{"s":"K10","x":2.665,"c":292},{"s":"K10","x":2.67,"c":305},{"s":"K10","x":2.675,"c":288},{"s":"K10","x":2.7,"c":285},{"s":"K10","x":2.75,"c":270},{"s":"K10","x":2.8,"c":255},{"s":"K10","x":2.85,"c":235},{"s":"K10","x":2.9,"c":210},{"s":"K10","x":2.95,"c":185},{"s":"K10","x":3,"c":155},{"s":"K10","x":3.05,"c":118},{"s":"K10","x":3.1,"c":70},{"s":"K10","x":3.2,"c":38},{"s":"K10","x":3.3,"c":22},{"s":"K10","x":3.4,"c":13},{"s":"K10","x":3.6,"c":9},{"s":"K10","x":3.8,"c":8},{"s":"K10","x":4,"c":7},{"s":"K10","x":4.2,"c":7},{"s":"K10","x":4.4,"c":6},{"s":"K10","x":4.6,"c":5},{"s":"K10","x":4.8,"c":4},{"s":"K10","x":5,"c":3},{"s":"K10","x":5.2,"c":0},{"s":"K10","x":5.4,"c":0}
]
},
"bounds": "flush",
"spacing": 308,
"vconcat": [
{
  "bounds": "flush",
  "spacing": 0,
  "hconcat": [
    {"width": 452, "height": 188, "view": {"stroke": null}, "data": {"values": []}, "mark": "point"},
    {
      "width": 185, "height": 188,
      "data": {"name": "hist"},
      "transform": [
        {"filter": "datum.s == 'D'"},
        {"lookup": "s", "from": {"data": {"name": "meta"}, "key": "s", "fields": ["cap", "ord", "gate", "hline", "ymax", "label"]}}
      ],
      "title": {"text": "0.1% DMSO", "orient": "bottom", "fontSize": 23, "font": "Liberation Serif", "fontWeight": "normal", "color": "#111", "offset": 24},
      "layer": [
        {
          "mark": {"type": "area", "color": "#F07070", "opacity": 1, "clip": true, "line": {"color": "#E8161E", "strokeWidth": 0.8}},
          "encoding": {
            "x": {"field": "x", "type": "quantitative", "scale": {"domain": [1.4, 5.42], "nice": false, "zero": false},
              "axis": {"title": "FITC-A", "tickCount": 200, "values": [1.477,1.602,1.699,1.778,1.845,1.903,1.954,2,2.301,2.477,2.602,2.699,2.778,2.845,2.903,2.954,3,3.301,3.477,3.602,3.699,3.778,3.845,3.903,3.954,4,4.301,4.477,4.602,4.699,4.778,4.845,4.903,4.954,5,5.301],
                "labelExpr": "datum.value == 2 ? '10²' : datum.value == 3 ? '10³' : datum.value == 4 ? '10⁴' : datum.value == 5 ? '10⁵' : ''",
                "tickSize": {"condition": {"test": "datum.value % 1 != 0", "value": 3}, "value": 6},
                "labelFontSize": 16, "titleFontSize": 21, "titlePadding": 0, "labelPadding": 0, "labelOverlap": false}},
            "y": {"field": "c", "type": "quantitative", "scale": {"zero": true, "nice": false},
              "axis": {"title": "Count", "tickCount": 36, "tickMinStep": 10, "labelAngle": -90, "labelExpr": "datum.value % 50 == 0 ? datum.label : ''",
                "tickSize": {"condition": {"test": "datum.value % 50 == 0", "value": 5}, "value": 3},
                "labelFontSize": 16, "labelOverlap": false, "labelPadding": 1, "titleFontSize": 21, "titlePadding": 2}}
          }
        },
        {
          "transform": [{"aggregate": [{"op": "count", "as": "n"}], "groupby": ["cap", "gate", "ymax", "hline", "label"]}],
          "layer": [
            {"mark": {"type": "rule", "color": "#3a3a3a", "strokeWidth": 1.1}, "encoding": {"x": {"field": "gate", "type": "quantitative"}, "y": {"field": "ymax", "type": "quantitative"}, "y2": {"datum": 0}}},
            {"transform": [{"filter": "isValid(datum.hline)"}], "mark": {"type": "rule", "color": "#3a3a3a", "strokeWidth": 1.1}, "encoding": {"x": {"field": "gate", "type": "quantitative"}, "x2": {"datum": 5.42}, "y": {"field": "hline", "type": "quantitative"}}},
            {"mark": {"type": "text", "align": "left", "baseline": "middle", "dx": 2, "dy": 64, "fontSize": 22, "font": "Liberation Serif", "color": "#111"}, "encoding": {"x": {"field": "gate", "type": "quantitative"}, "y": {"field": "ymax", "type": "quantitative"}, "text": {"field": "label"}}}
          ]
        }
      ]
    }
  ]
},
{
  "data": {"name": "hist"},
  "transform": [
    {"filter": "datum.s != 'D'"},
    {"lookup": "s", "from": {"data": {"name": "meta"}, "key": "s", "fields": ["cap", "ord", "gate", "hline", "ymax", "label"]}}
  ],
  "facet": {"field": "cap", "type": "nominal", "sort": {"field": "ord", "op": "min"}, "header": {"title": null, "labelOrient": "bottom", "labelFontSize": 25, "labelPadding": 24}},
  "columns": 4,
  "bounds": "flush",
  "spacing": {"row": 131, "column": 92},
  "resolve": {"scale": {"y": "independent"}, "axis": {"x": "independent", "y": "independent"}},
  "spec": {
    "width": 185, "height": 188,
    "layer": [
      {
        "mark": {"type": "area", "color": "#F07070", "opacity": 1, "clip": true, "line": {"color": "#E8161E", "strokeWidth": 0.8}},
        "encoding": {
          "x": {"field": "x", "type": "quantitative", "scale": {"domain": [1.4, 5.42], "nice": false, "zero": false},
            "axis": {"title": "FITC-A", "tickCount": 200, "values": [1.477,1.602,1.699,1.778,1.845,1.903,1.954,2,2.301,2.477,2.602,2.699,2.778,2.845,2.903,2.954,3,3.301,3.477,3.602,3.699,3.778,3.845,3.903,3.954,4,4.301,4.477,4.602,4.699,4.778,4.845,4.903,4.954,5,5.301],
              "labelExpr": "datum.value == 2 ? '10²' : datum.value == 3 ? '10³' : datum.value == 4 ? '10⁴' : datum.value == 5 ? '10⁵' : ''",
              "tickSize": {"condition": {"test": "datum.value % 1 != 0", "value": 3}, "value": 6},
              "labelFontSize": 16, "titleFontSize": 21, "titlePadding": 0, "labelPadding": 0, "labelOverlap": false}},
          "y": {"field": "c", "type": "quantitative", "scale": {"zero": true, "nice": false},
            "axis": {"title": "Count", "tickCount": 36, "tickMinStep": 10, "labelAngle": -90, "labelExpr": "datum.value % 50 == 0 ? datum.label : ''",
              "tickSize": {"condition": {"test": "datum.value % 50 == 0", "value": 5}, "value": 3},
              "labelFontSize": 16, "labelOverlap": false, "labelPadding": 1, "titleFontSize": 21, "titlePadding": 2}}
        }
      },
      {
        "transform": [{"aggregate": [{"op": "count", "as": "n"}], "groupby": ["cap", "gate", "ymax", "hline", "label"]}],
        "layer": [
          {"mark": {"type": "rule", "color": "#3a3a3a", "strokeWidth": 1.1}, "encoding": {"x": {"field": "gate", "type": "quantitative"}, "y": {"field": "ymax", "type": "quantitative"}, "y2": {"datum": 0}}},
          {"transform": [{"filter": "isValid(datum.hline)"}], "mark": {"type": "rule", "color": "#3a3a3a", "strokeWidth": 1.1}, "encoding": {"x": {"field": "gate", "type": "quantitative"}, "x2": {"datum": 5.42}, "y": {"field": "hline", "type": "quantitative"}}},
          {"mark": {"type": "text", "align": "left", "baseline": "middle", "dx": 2, "dy": 64, "fontSize": 22, "font": "Liberation Serif", "color": "#111"}, "encoding": {"x": {"field": "gate", "type": "quantitative"}, "y": {"field": "ymax", "type": "quantitative"}, "text": {"field": "label"}}}
        ]
      }
    ]
  }
}
]
}
